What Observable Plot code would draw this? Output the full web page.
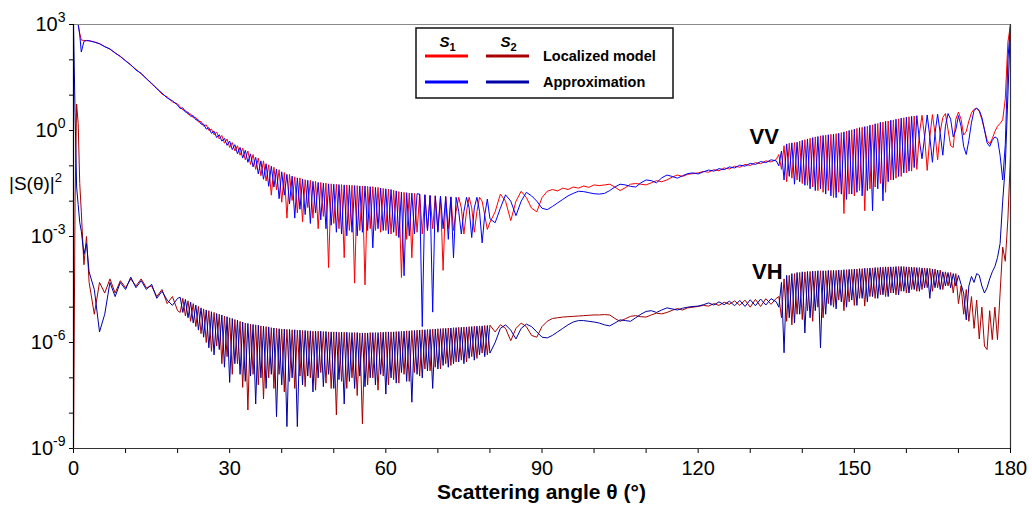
<!DOCTYPE html>
<html>
<head>
<meta charset="utf-8">
<script src="https://cdn.jsdelivr.net/npm/d3@7"></script>
<script src="https://cdn.jsdelivr.net/npm/@observablehq/plot@0.6"></script>
<style>
  html, body { margin: 0; padding: 0; background: #fff; }
  #chart { position: relative; width: 1032px; height: 506px; }
</style>
</head>
<body>
<div id="chart"></div>
<script>
// Scattering angle samples (degrees)
const theta = [
 0,0.3,0.6,0.9,1.2,1.5,2,2.5,3,
 4,5,6,7,8,9,10,11,12,13,14,15,16,17,18,19,20,
 20.5,21,21.5,22,22.5,23,23.5,24,24.5,25,
 25.5,26,26.5,27,27.5,28,28.5,29,29.5,30,
 30.5,31,31.5,32,32.5,33,33.5,34,34.5,35,
 35.5,36,36.5,37,37.5,38,38.5,39,39.5,40,
 40.5,41,41.5,42,42.5,43,43.5,44,44.5,45,
 45.5,46,46.5,47,47.5,48,48.5,49,49.5,50,
 50.5,51,51.5,52,52.5,53,53.5,54,54.5,55,
 55.5,56,56.5,57,57.5,58,58.5,59,59.5,60,
 60.5,61,61.5,62,62.5,63,63.5,64,64.5,65,
 65.5,66,66.5,67,67.5,68,68.5,69,69.5,70,
 70.5,71,71.5,72,72.5,73,73.5,74,74.5,75,
 75.5,76,76.5,77,77.5,78,78.5,79,79.5,80,
 81,82,83,84,85,86,87,88,89,90,
 91,92,93,94,95,96,97,98,99,100,
 101,102,103,104,105,106,107,108,109,110,
 111,112,113,114,115,116,117,118,119,120,
 121,122,123,124,125,126,127,128,129,130,
 131,132,133,134,135,
 135.5,136,136.5,137,137.5,138,138.5,139,139.5,140,
 140.5,141,141.5,142,142.5,143,143.5,144,144.5,145,
 145.5,146,146.5,147,147.5,148,148.5,149,149.5,150,
 150.5,151,151.5,152,152.5,153,153.5,154,154.5,155,
 155.5,156,156.5,157,157.5,158,158.5,159,159.5,160,
 160.5,161,161.5,162,162.5,163,163.5,164,164.5,165,
 165.5,166,166.5,167,167.5,168,168.5,169,169.5,170,
 170.5,171,171.5,172,172.5,173,173.5,174,174.5,175,
 175.5,176,176.5,177,177.5,178,
 178.5,179,179.5,180
];

// log10 |S1|^2, VV, localized model (red)
const vvModelExp = [
 3.6,3.6,3.5,3.3,2.75,2.56,2.55,2.54,2.54,
 2.51,2.45,2.38,2.30,2.20,2.09,1.98,1.85,1.73,1.60,1.48,1.32,1.20,1.03,0.95,0.81,0.75,
 0.67,0.58,0.57,0.46,0.47,0.36,0.37,0.24,0.26,0.12,
 0.16,0.00,0.04,-0.12,-0.04,-0.24,-0.14,-0.36,-0.24,-0.48,
 -0.34,-0.58,-0.43,-0.70,-0.50,-0.83,-0.58,-0.96,-0.68,-1.10,
 -0.78,-1.28,-0.86,-1.43,-0.97,-1.83,-1.04,-1.68,-1.11,-2.03,
 -1.19,-2.48,-1.24,-1.98,-1.31,-2.33,-1.34,-2.58,-1.39,-2.18,
 -1.41,-2.48,-1.44,-2.78,-1.47,-2.43,-1.49,-3.88,-1.51,-2.63,
 -1.52,-2.78,-1.53,-3.60,-1.54,-2.83,-1.55,-4.32,-1.56,-2.83,
 -1.57,-4.37,-1.58,-2.78,-1.59,-2.83,-1.61,-2.88,-1.64,-2.83,
 -1.66,-2.93,-1.69,-2.98,-1.73,-4.16,-1.75,-3.08,-1.77,-3.60,
 -1.78,-2.88,-1.80,-2.93,-1.82,-2.83,-1.84,-2.78,-1.85,-2.83,
 -1.86,-3.96,-1.87,-2.78,-1.88,-2.83,-2.29,-1.89,-2.19,-2.93,
 -2.29,-1.89,-2.19,-2.88,-2.29,-1.89,-2.00,-2.40,-2.80,-2.60,
 -2.30,-1.80,-2.00,-2.55,-2.00,-1.72,-1.90,-2.20,-2.30,-1.90,
 -1.72,-1.67,-1.71,-1.63,-1.67,-1.60,-1.63,-1.57,-1.61,-1.54,
 -1.56,-1.54,-1.52,-1.60,-1.70,-1.62,-1.52,-1.50,-1.52,-1.54,
 -1.48,-1.42,-1.45,-1.40,-1.32,-1.26,-1.30,-1.24,-1.22,-1.20,
 -1.16,-1.18,-1.11,-1.14,-1.06,-1.09,-1.01,-1.04,-0.96,-0.99,
 -0.91,-0.94,-0.86,-0.89,-0.82,
 -0.68,-1.10,-0.43,-1.45,-0.36,-1.35,-0.34,-1.40,-0.30,-1.50,
 -0.26,-1.55,-0.22,-1.60,-0.18,-1.70,-0.15,-1.75,-0.13,-1.70,
 -0.11,-1.90,-0.09,-1.75,-0.06,-2.35,-0.02,-1.80,0.02,-1.85,
 0.06,-1.70,0.09,-2.27,0.12,-1.65,0.16,-1.60,0.20,-1.50,
 0.24,-1.75,0.27,-1.40,0.30,-1.35,0.33,-1.30,0.36,-1.20,
 0.39,-1.15,0.41,-1.10,-0.08,0.43,-0.18,-1.13,-0.18,0.45,
 -0.08,-0.83,-0.03,0.37,0.48,0.02,-0.43,-0.48,0.32,0.52,
 0.32,-0.13,-0.03,0.27,0.50,0.60,0.63,0.54,0.32,0.02,
 -0.28,-0.38,-0.23,-0.03,0.12,0.20,
 0.30,0.9,2.5,3.6
];

// log10 |S1|^2, VV, approximation (blue)
const vvApproxExp = [
 3.6,3.6,3.5,3.3,2.7,2.22,2.52,2.55,2.54,
 2.50,2.46,2.37,2.31,2.19,2.10,1.97,1.86,1.71,1.62,1.46,1.34,1.18,1.06,0.92,0.84,0.72,
 0.62,0.64,0.52,0.52,0.40,0.42,0.30,0.30,0.18,0.18,
 0.04,0.08,-0.08,-0.02,-0.20,-0.12,-0.30,-0.22,-0.42,-0.30,
 -0.54,-0.40,-0.66,-0.48,-0.78,-0.56,-0.90,-0.66,-1.03,-0.76,
 -1.23,-0.86,-1.38,-0.94,-1.58,-1.01,-1.60,-1.09,-1.93,-1.17,
 -1.83,-1.24,-2.08,-1.29,-2.48,-1.34,-2.23,-1.37,-2.38,-1.41,
 -2.63,-1.44,-2.33,-1.47,-2.53,-1.49,-2.78,-1.51,-2.68,-1.52,
 -2.88,-1.53,-2.93,-1.54,-2.98,-1.55,-2.88,-1.56,-2.98,-1.57,
 -2.88,-1.57,-2.83,-1.59,-3.32,-1.61,-2.78,-1.63,-2.83,-1.65,
 -2.93,-1.67,-2.88,-1.71,-3.03,-1.74,-4.11,-1.76,-2.98,-1.77,
 -2.93,-1.79,-1.80,-5.55,-1.82,-2.83,-1.84,-5.14,-1.85,-2.88,
 -1.86,-2.78,-1.87,-3.08,-1.88,-3.60,-1.89,-2.29,-2.93,-2.29,
 -1.89,-2.19,-3.03,-2.19,-1.89,-2.29,-3.18,-2.39,-1.94,-2.50,
 -2.61,-2.20,-1.82,-2.00,-2.41,-2.00,-1.75,-1.85,-2.00,-2.20,
 -2.24,-2.15,-2.05,-1.95,-1.85,-1.78,-1.72,-1.73,-1.76,-1.79,
 -1.80,-1.78,-1.70,-1.60,-1.52,-1.54,-1.58,-1.60,-1.48,-1.40,
 -1.42,-1.48,-1.34,-1.26,-1.30,-1.35,-1.28,-1.22,-1.20,-1.23,
 -1.17,-1.12,-1.15,-1.08,-1.11,-1.03,-1.06,-0.98,-1.01,-0.93,
 -0.96,-0.88,-0.91,-0.83,-0.86,
 -1.00,-0.58,-1.40,-0.38,-1.30,-0.35,-1.52,-0.33,-1.45,-0.28,
 -1.55,-0.24,-1.65,-0.20,-1.70,-0.17,-1.65,-0.14,-1.80,-0.12,
 -1.85,-0.10,-1.90,-0.08,-1.80,-0.04,-1.95,0.00,-1.80,0.04,
 -1.75,0.08,-1.85,0.11,-1.70,0.15,-2.27,0.19,-1.65,0.23,
 -1.99,0.26,-1.45,0.29,-1.40,0.32,-1.30,0.35,-1.20,0.38,
 -1.15,0.40,-1.05,0.42,-0.28,-0.80,-0.18,0.44,-0.18,-0.90,
 -0.08,0.46,-0.08,-0.70,0.12,0.48,0.32,-0.18,0.02,0.42,
 0.12,-0.45,-0.68,-0.28,0.22,0.57,0.63,0.57,0.37,0.02,
 -0.35,-0.45,-0.28,-0.18,-0.23,-0.70,
 -1.40,-0.4,2.0,3.6
];

// log10 |S2|^2, VH, localized model (dark red)
const vhModelExp = [
 -9.0,-2.0,0.75,0.2,-1.5,-2.3,-3.8,-3.0,-4.3,
 -5.2,-4.3,-4.6,-4.2,-4.6,-4.25,-4.45,-4.2,-4.4,-4.2,-4.45,-4.4,-4.7,-4.5,-4.9,-4.7,-5.1,
 -5.15,-4.75,-5.25,-4.82,-5.40,-4.90,-5.55,-4.98,-5.75,-5.05,
 -6.00,-5.10,-6.25,-5.15,-6.10,-5.20,-6.60,-5.25,-6.40,-5.30,
 -6.90,-5.35,-6.60,-5.40,-7.27,-5.45,-7.91,-5.48,-6.90,-5.50,
 -7.20,-5.53,-7.60,-5.55,-7.00,-5.58,-7.30,-5.60,-6.90,-5.62,
 -7.40,-5.63,-7.10,-5.64,-7.30,-5.65,-6.95,-5.66,-7.25,-5.67,
 -7.00,-5.68,-7.35,-5.68,-6.85,-5.69,-7.15,-5.70,-7.30,-5.70,
 -8.05,-5.71,-7.10,-5.71,-7.30,-5.72,-7.00,-5.72,-7.50,-5.73,
 -8.30,-5.73,-7.20,-5.72,-7.00,-5.72,-7.35,-5.71,-6.95,-5.70,
 -7.20,-5.70,-7.05,-5.69,-7.15,-5.68,-6.90,-5.67,-7.10,-5.66,
 -6.85,-5.65,-6.95,-5.64,-6.75,-5.63,-6.80,-5.62,-6.70,-5.61,
 -6.75,-5.60,-6.60,-5.59,-6.65,-5.58,-6.55,-5.57,-6.50,-5.56,
 -6.55,-5.55,-6.40,-5.54,-6.45,-5.53,-6.30,-5.52,-6.35,-5.51,
 -5.70,-5.50,-5.60,-5.95,-5.60,-5.45,-5.55,-5.80,-5.85,-5.55,
 -5.40,-5.32,-5.30,-5.28,-5.27,-5.26,-5.25,-5.24,-5.23,-5.22,
 -5.22,-5.21,-5.22,-5.32,-5.40,-5.33,-5.26,-5.24,-5.27,-5.28,
 -5.22,-5.17,-5.19,-5.15,-5.09,-5.04,-5.08,-5.02,-5.00,-4.98,
 -4.95,-4.97,-4.90,-4.95,-4.86,-4.92,-4.82,-4.95,-4.80,-5.00,
 -4.78,-4.98,-4.76,-4.92,-4.75,
 -4.70,-5.30,-4.20,-5.40,-4.10,-5.50,-4.05,-5.20,-4.02,-5.35,
 -4.00,-5.10,-3.99,-5.40,-3.98,-5.00,-3.97,-5.30,-3.97,-4.90,
 -3.96,-5.00,-3.96,-4.80,-3.95,-5.10,-3.94,-4.85,-3.93,-4.95,
 -3.92,-4.75,-3.91,-4.97,-3.90,-4.70,-3.89,-4.75,-3.88,-4.65,
 -3.87,-4.70,-3.86,-4.60,-3.86,-4.65,-3.85,-4.55,-3.85,-4.60,
 -3.86,-4.50,-3.87,-4.55,-3.88,-4.50,-3.89,-4.45,-3.90,-4.55,
 -3.92,-4.45,-3.95,-4.50,-4.00,-4.40,-4.02,-4.60,-4.05,-4.90,
 -4.40,-5.20,-4.50,-5.40,-4.70,-5.60,-4.80,-5.90,-5.00,-6.10,
 -6.20,-5.10,-5.92,-5.00,-5.92,-4.60,
 -3.30,-3.70,-2.50,-0.70
];

// log10 |S2|^2, VH, approximation (dark blue)
const vhApproxExp = [
 3.5,0.5,-1.6,-2.1,-2.6,-2.85,-3.5,-3.2,-4.0,
 -4.5,-5.7,-5.2,-4.3,-4.7,-4.3,-4.5,-4.15,-4.45,-4.25,-4.5,-4.35,-4.75,-4.55,-4.8,-4.95,-4.75,
 -4.72,-5.15,-4.78,-5.30,-4.86,-5.45,-4.94,-5.65,-5.02,-5.85,
 -5.08,-6.15,-5.13,-6.35,-5.18,-6.20,-5.22,-6.70,-5.27,-7.13,
 -5.32,-6.60,-5.37,-6.90,-5.42,-7.10,-5.46,-6.95,-5.49,-7.74,
 -5.51,-7.00,-5.54,-7.30,-5.56,-6.90,-5.59,-8.10,-5.61,-7.20,
 -5.62,-8.38,-5.63,-7.00,-5.64,-8.38,-5.65,-7.20,-5.66,-6.95,
 -5.67,-7.40,-5.68,-7.00,-5.68,-7.25,-5.69,-6.90,-5.70,-7.30,
 -5.70,-7.05,-5.71,-7.74,-5.71,-7.10,-5.72,-7.30,-5.72,-6.95,
 -5.73,-7.25,-5.73,-7.00,-5.72,-7.20,-5.72,-6.90,-5.71,-7.46,
 -5.70,-7.00,-5.70,-7.15,-5.69,-6.85,-5.68,-7.10,-5.67,-7.69,
 -5.66,-6.90,-5.65,-7.00,-5.64,-6.80,-5.63,-7.30,-5.62,-6.75,
 -5.61,-6.65,-5.60,-6.70,-5.59,-6.60,-5.58,-6.55,-5.57,-6.60,
 -5.56,-6.45,-5.55,-6.50,-5.54,-6.35,-5.53,-6.40,-5.52,-6.30,
 -6.00,-5.60,-5.50,-5.65,-5.90,-5.60,-5.48,-5.55,-5.70,-5.85,
 -5.87,-5.80,-5.70,-5.60,-5.50,-5.42,-5.38,-5.38,-5.40,-5.42,
 -5.45,-5.50,-5.53,-5.45,-5.36,-5.38,-5.40,-5.30,-5.20,-5.12,
 -5.10,-5.15,-5.08,-5.02,-5.05,-5.08,-5.03,-5.00,-4.98,-4.97,
 -4.93,-4.88,-4.94,-4.85,-4.93,-4.83,-4.96,-4.81,-4.98,-4.79,
 -4.96,-4.77,-4.94,-4.76,-4.85,
 -5.00,-4.30,-6.29,-4.10,-5.30,-4.05,-5.45,-4.02,-5.20,-4.00,
 -5.73,-3.99,-5.30,-3.98,-5.10,-3.97,-6.15,-3.97,-5.20,-3.96,
 -4.95,-3.96,-5.05,-3.95,-4.85,-3.94,-5.00,-3.93,-4.80,-3.92,
 -4.95,-3.91,-4.75,-3.90,-4.85,-3.89,-4.70,-3.88,-4.75,-3.87,
 -4.65,-3.86,-4.70,-3.86,-4.60,-3.85,-4.65,-3.85,-4.55,-3.86,
 -4.60,-3.87,-4.50,-3.88,-4.55,-3.89,-4.45,-3.90,-4.75,-3.92,
 -4.45,-3.95,-4.50,-4.00,-4.40,-4.02,-4.45,-4.05,-4.40,-4.10,
 -4.35,-4.60,-5.36,-4.40,-4.13,-4.30,-4.05,-4.10,-4.40,-4.60,
 -4.45,-4.20,-4.00,-3.85,-3.60,-3.20,
 -2.00,-1.00,1.00,3.60
];

// Axis ticks
const xTicks = [0,10,20,30,40,50,60,70,80,90,100,110,120,130,140,150,160,170,180];
const xLabelled = [0,30,60,90,120,150,180];
const yTicks = [1e-9,1e-8,1e-7,1e-6,1e-5,1e-4,1e-3,1e-2,1e-1,1e0,1e1,1e2,1e3];
const yLabelExps = [-9,-6,-3,0,3];

// Annotations
const annotations = [
  {label: "VV", theta: 132.7, value: 10 ** -0.17},
  {label: "VH", theta: 133.3, value: 10 ** -4.0}
];

const seriesDefs = [
  {name: "VH S2 localized model", exps: vhModelExp, color: "#a80000"},
  {name: "VH S2 approximation", exps: vhApproxExp, color: "#0000a8"},
  {name: "VV S1 localized model", exps: vvModelExp, color: "#ff0000"},
  {name: "VV S1 approximation", exps: vvApproxExp, color: "#0000ff"}
];

seriesDefs.forEach(s => {
  if (s.exps.length !== theta.length) console.error(s.name, s.exps.length, theta.length);
});

const tables = seriesDefs.map(s => theta.map((t, i) => ({theta: t, value: 10 ** s.exps[i], series: s.name})));

const FONT = "'Liberation Sans', Arial, Helvetica, sans-serif";

const plot = Plot.plot({
  width: 1032,
  height: 506,
  marginLeft: 73,
  marginRight: 22,
  marginTop: 24,
  marginBottom: 58,
  style: {fontFamily: FONT, fontSize: "20px", background: "white", color: "#000"},
  x: {
    domain: [0, 180],
    ticks: xTicks,
    tickFormat: d => xLabelled.includes(d) ? String(d) : "",
    tickSize: 5,
    tickPadding: 7,
    label: null
  },
  y: {
    type: "log",
    domain: [1e-9, 1e3],
    ticks: yTicks,
    tickFormat: d => {
      const e = Math.round(Math.log10(d));
      return yLabelExps.includes(e) ? "10^" + e : "";
    },
    tickSize: 4,
    tickPadding: 4,
    label: null,
    clamp: true
  },
  marks: [
    ...tables.map((tb, k) => Plot.line(tb, {x: "theta", y: "value", stroke: seriesDefs[k].color, strokeWidth: 1, clip: true})),
    Plot.ruleY([1e3], {stroke: "#8a8a8a", strokeWidth: 1.2}),
    Plot.ruleX([180], {stroke: "#333", strokeWidth: 1.2}),
    Plot.ruleX([0], {stroke: "#000", strokeWidth: 1.2}),
    Plot.ruleY([1e-9], {stroke: "#333", strokeWidth: 1.2}),
    Plot.text(annotations, {x: "theta", y: "value", text: "label", fontSize: 22, fontWeight: "bold", fill: "#000"})
  ]
});

document.getElementById("chart").append(plot);

// Superscript exponents on the y tick labels
plot.querySelectorAll("text").forEach(t => {
  const m = /^10\^(-?\d+)$/.exec(t.textContent);
  if (!m) return;
  t.textContent = "";
  const ns = "http://www.w3.org/2000/svg";
  const base = document.createElementNS(ns, "tspan");
  base.textContent = "10";
  const sup = document.createElementNS(ns, "tspan");
  sup.textContent = m[1];
  sup.setAttribute("dy", "-9");
  sup.setAttribute("font-size", "14");
  t.append(base, sup);
});

const svg = d3.select(plot);

// Axis titles
svg.append("text")
  .attr("x", 541.5).attr("y", 499)
  .attr("text-anchor", "middle")
  .attr("font-family", FONT).attr("font-size", 21).attr("font-weight", "bold")
  .text("Scattering angle θ (°)");

const yt = svg.append("text")
  .attr("x", 9).attr("y", 190)
  .attr("text-anchor", "start")
  .attr("font-family", FONT).attr("font-size", 19);
yt.append("tspan").text("|S(θ)|");
yt.append("tspan").attr("dy", -8).attr("font-size", 13).text("2");

// Legend
const lg = svg.append("g").attr("transform", "translate(416,28)")
  .attr("font-family", FONT).attr("text-anchor", "start");
lg.append("rect").attr("width", 257).attr("height", 70).attr("fill", "white").attr("stroke", "#111").attr("stroke-width", 1.5);
const legendCols = [
  {sub: "1", x0: 9, x1: 52, colors: ["#ff0000", "#0000ff"]},
  {sub: "2", x0: 70, x1: 113, colors: ["#a80000", "#0000a8"]}
];
legendCols.forEach(c => {
  const lab = lg.append("text").attr("x", (c.x0 + c.x1) / 2 - 7).attr("y", 19)
    .attr("text-anchor", "start").attr("font-size", 15).attr("font-weight", "bold");
  lab.append("tspan").attr("font-style", "italic").text("S");
  lab.append("tspan").attr("dy", 4).attr("font-size", 11).text(c.sub);
  c.colors.forEach((col, r) => {
    lg.append("line").attr("x1", c.x0).attr("x2", c.x1).attr("y1", 28 + r * 26).attr("y2", 28 + r * 26)
      .attr("stroke", col).attr("stroke-width", 3);
  });
});
["Localized model", "Approximation"].forEach((s, r) => {
  lg.append("text").attr("x", 127).attr("y", 33 + r * 26).attr("text-anchor", "start")
    .attr("font-size", 14.5).attr("font-weight", "bold").text(s);
});
</script>
</body>
</html>
